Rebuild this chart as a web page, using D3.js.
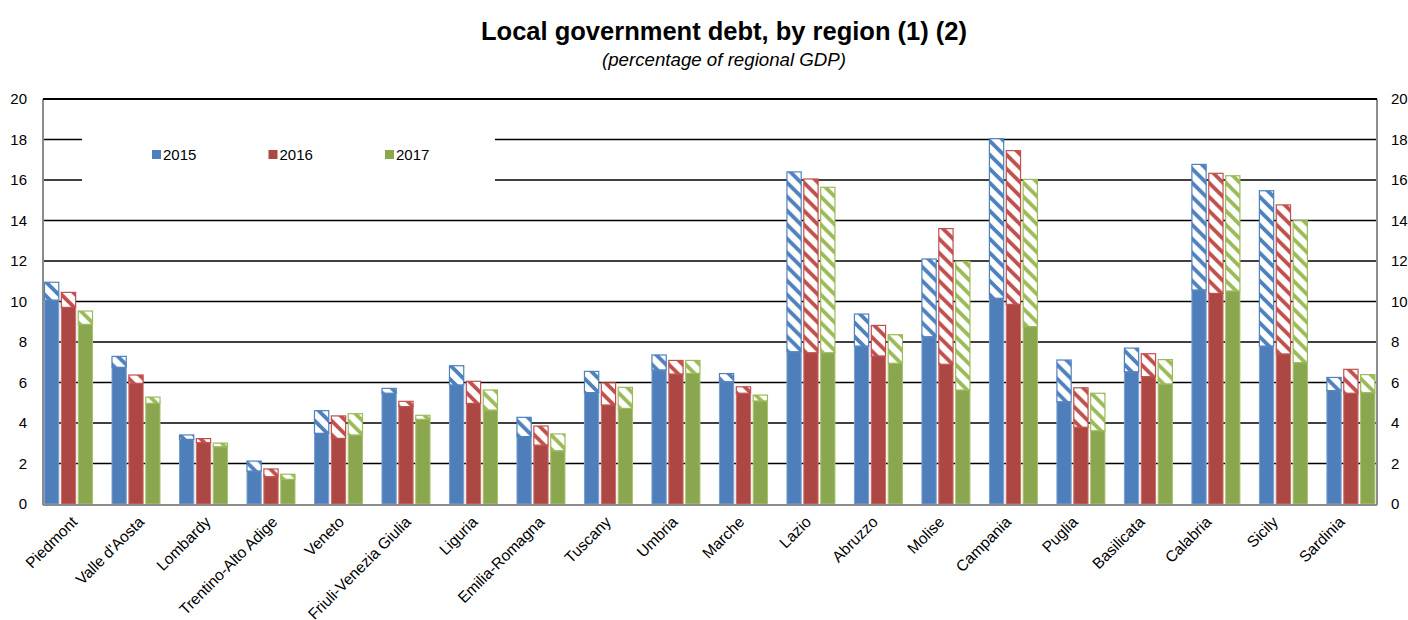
<!DOCTYPE html>
<html>
<head>
<meta charset="utf-8">
<script src="https://cdn.jsdelivr.net/npm/d3@7/dist/d3.min.js"></script>
<style>
  body { margin: 0; background: #fff; }
  svg text { font-family: 'Liberation Sans', Arial, sans-serif; fill: #000; }
</style>
</head>
<body>
<div id="chart"></div>
<script>
const regions = ['Piedmont', "Valle d'Aosta", 'Lombardy', 'Trentino-Alto Adige', 'Veneto',
  'Friuli-Venezia Giulia', 'Liguria', 'Emilia-Romagna', 'Tuscany', 'Umbria', 'Marche', 'Lazio',
  'Abruzzo', 'Molise', 'Campania', 'Puglia', 'Basilicata', 'Calabria', 'Sicily', 'Sardinia']
const years = ['2015', '2016', '2017']

// bar heights (whole bar)
const total2015 = [10.95, 7.29, 3.41, 2.12, 4.61, 5.71, 6.83, 4.28, 6.55, 7.36, 6.44, 16.4, 9.38, 12.1, 18.04, 7.11, 7.7, 16.77, 15.47, 6.25]
const total2016 = [10.45, 6.37, 3.23, 1.73, 4.35, 5.07, 6.06, 3.85, 5.98, 7.09, 5.79, 16.05, 8.82, 13.6, 17.45, 5.74, 7.42, 16.33, 14.77, 6.65]
const total2017 = [9.53, 5.28, 3.01, 1.47, 4.46, 4.38, 5.63, 3.46, 5.76, 7.09, 5.38, 15.64, 8.36, 11.98, 16.03, 5.47, 7.13, 16.21, 13.99, 6.39]
// solid part of each bar (hatched part goes from here up to the total)
const solid2015 = [10.07, 6.75, 3.19, 1.63, 3.49, 5.47, 5.88, 3.33, 5.5, 6.62, 6.04, 7.52, 7.8, 8.26, 10.16, 5.05, 6.53, 10.57, 7.8, 5.6]
const solid2016 = [9.71, 5.96, 3.03, 1.35, 3.24, 4.81, 4.97, 2.91, 4.89, 6.42, 5.47, 7.47, 7.31, 6.9, 9.86, 3.79, 6.29, 10.4, 7.41, 5.47]
const solid2017 = [8.87, 4.97, 2.83, 1.22, 3.41, 4.18, 4.64, 2.63, 4.72, 6.45, 5.09, 7.47, 6.95, 5.63, 8.76, 3.62, 5.93, 10.52, 6.98, 5.5]
const yTicks = [0, 2, 4, 6, 8, 10, 12, 14, 16, 18, 20]

const fillColors = ['#4E7FBB', '#AD4744', '#8AA64F']
const edgeColors = ['#7BA1D3', '#CF6D6A', '#A9C46E']
const hatchColors = ['#4F81BD', '#C0504D', '#9BBB59']

const totals = [total2015, total2016, total2017]
const solids = [solid2015, solid2016, solid2017]

const bars = []
regions.forEach((r, i) => {
  years.forEach((y, j) => {
    bars.push({ region: r, year: y, idx: j, total: totals[j][i], solid: solids[j][i] })
  })
})

const width = 1408
const height = 620
const plotLeft = 43
const plotRight = 1377
const plotTop = 99
const plotBottom = 504

const svg = d3.select('#chart').append('svg')
  .attr('width', width)
  .attr('height', height)

const yScale = d3.scaleLinear().domain([0, 20]).range([plotBottom, plotTop])
// groups of bars sit flush with both axes
const xGroups = d3.scaleBand().domain(regions).range([plotLeft + 1, plotRight])
  .paddingInner(0.25).paddingOuter(0)
const xSeries = d3.scaleBand().domain(years).range([0, xGroups.bandwidth()])
// labels sit on the plain category centres
const xLabels = d3.scaleBand().domain(regions).range([plotLeft, plotRight])

// hatch patterns
const defs = svg.append('defs')
hatchColors.forEach((c, j) => {
  const p = defs.append('pattern')
    .attr('id', `hatch${j}`)
    .attr('patternUnits', 'userSpaceOnUse')
    .attr('width', 14)
    .attr('height', 14)
  p.append('rect').attr('width', 14).attr('height', 14).attr('fill', '#fff')
  p.append('path')
    .attr('d', 'M-3,-3 L17,17 M-3,11 L3,17 M11,-3 L17,3')
    .attr('stroke', c)
    .attr('stroke-width', 3.8)
})

// title
svg.append('text')
  .attr('x', 724).attr('y', 40)
  .attr('text-anchor', 'middle')
  .style('font-size', '25.5px')
  .style('font-weight', 'bold')
  .text('Local government debt, by region (1) (2)')
svg.append('text')
  .attr('x', 724).attr('y', 66)
  .attr('text-anchor', 'middle')
  .style('font-size', '18.7px')
  .style('font-style', 'italic')
  .text('(percentage of regional GDP)')

// gridlines
svg.append('g')
  .selectAll('line')
  .data(yTicks.filter(d => d > 0))
  .join('line')
  .attr('x1', plotLeft).attr('x2', plotRight)
  .attr('y1', d => yScale(d)).attr('y2', d => yScale(d))
  .attr('stroke', '#000')
  .attr('stroke-width', 1.5)

// legend box hides part of the gridlines
const legend = svg.append('g')
legend.append('rect')
  .attr('x', 82).attr('y', 120)
  .attr('width', 413).attr('height', 78)
  .attr('fill', '#fff')
const legendX = d3.scalePoint().domain(years).range([152, 385])
const li = legend.selectAll('g.item').data(years).join('g')
  .attr('class', 'item')
  .attr('transform', d => `translate(${legendX(d)},150)`)
li.append('rect')
  .attr('width', 9).attr('height', 9)
  .attr('fill', (d, j) => fillColors[j])
li.append('text')
  .attr('x', 11).attr('y', 10)
  .style('font-size', '15px')
  .text(d => d)

// bars
const barG = svg.append('g')
  .selectAll('g')
  .data(bars)
  .join('g')
  .attr('transform', d => `translate(${xGroups(d.region) + xSeries(d.year)},0)`)
const bw = xSeries.bandwidth() - 1.6

barG.append('rect')
  .attr('x', 0.5)
  .attr('y', d => yScale(d.solid))
  .attr('width', bw - 1)
  .attr('height', d => yScale(0) - yScale(d.solid))
  .attr('fill', d => fillColors[d.idx])
  .attr('stroke', d => edgeColors[d.idx])
  .attr('stroke-width', 1)

barG.append('rect')
  .attr('x', 0.5)
  .attr('y', d => yScale(d.total))
  .attr('width', bw - 1)
  .attr('height', d => yScale(d.solid) - yScale(d.total))
  .attr('fill', d => `url(#hatch${d.idx})`)
  .attr('stroke', d => hatchColors[d.idx])
  .attr('stroke-width', 1.2)

// axes frame
const frame = svg.append('g').attr('stroke', '#8C8C8C').attr('stroke-width', 2)
frame.append('line').attr('x1', plotLeft).attr('x2', plotLeft).attr('y1', plotTop).attr('y2', plotBottom + 1)
frame.append('line').attr('x1', plotRight).attr('x2', plotRight).attr('y1', plotTop).attr('y2', plotBottom + 1)
frame.append('line').attr('x1', plotLeft).attr('x2', plotRight).attr('y1', plotBottom + 1).attr('y2', plotBottom + 1)
svg.append('line')
  .attr('x1', plotLeft).attr('x2', plotRight)
  .attr('y1', plotTop).attr('y2', plotTop)
  .attr('stroke', '#000').attr('stroke-width', 2)

// y axes
svg.append('g')
  .attr('transform', `translate(${plotLeft - 13},0)`)
  .call(d3.axisLeft(yScale).tickValues(yTicks).tickSize(0))
  .call(g => {
    g.select('.domain').remove()
    g.selectAll('text').style('font-size', '15px').attr('fill', '#000')
      .style('font-family', "'Liberation Sans', Arial, sans-serif")
  })
svg.append('g')
  .attr('transform', `translate(${plotRight + 11},0)`)
  .call(d3.axisRight(yScale).tickValues(yTicks).tickSize(0))
  .call(g => {
    g.select('.domain').remove()
    g.selectAll('text').style('font-size', '15px').attr('fill', '#000')
      .style('font-family', "'Liberation Sans', Arial, sans-serif")
  })

// category labels
svg.append('g')
  .selectAll('text')
  .data(regions)
  .join('text')
  .attr('text-anchor', 'end')
  .attr('transform', d => `translate(${xLabels(d) + xLabels.bandwidth() / 2 + 2},523) rotate(-45)`)
  .style('font-size', '15.5px')
  .text(d => d)
</script>
</body>
</html>
